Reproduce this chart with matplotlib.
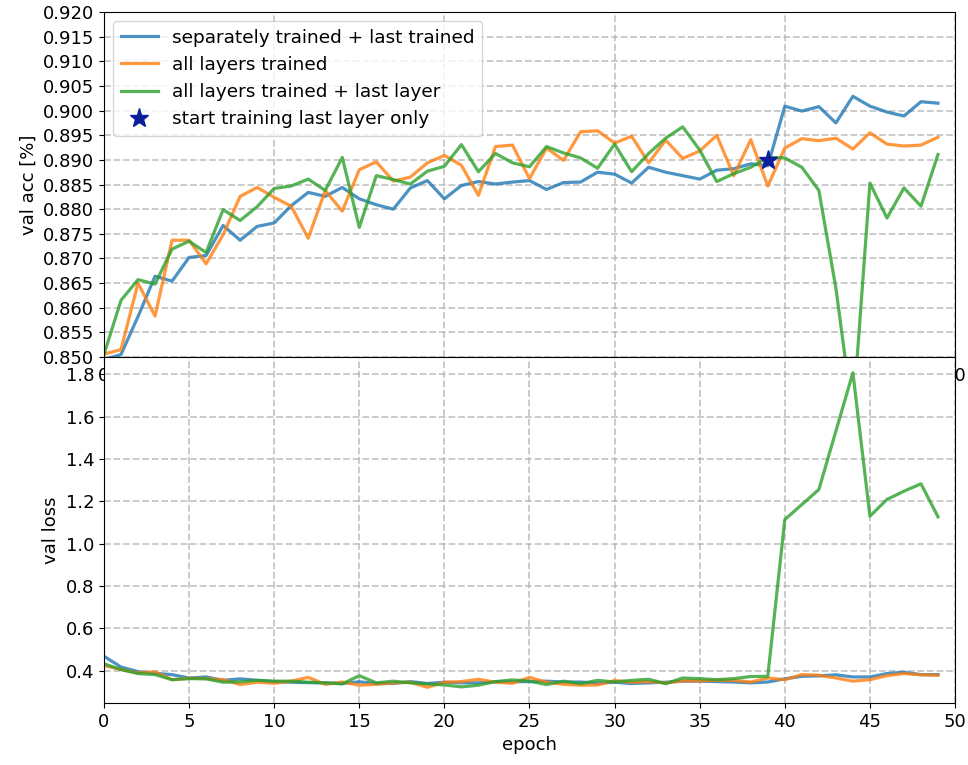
import numpy as np
import matplotlib
matplotlib.use("Agg")
import matplotlib.pyplot as plt

epochs = list(range(50))

acc_sep = [0.8495, 0.8505, 0.8582, 0.8664, 0.8654, 0.8702, 0.8706, 0.8767, 0.8737, 0.8765,
           0.8772, 0.8807, 0.8834, 0.8826, 0.8844, 0.8821, 0.8809, 0.8800, 0.8843, 0.8858,
           0.8821, 0.8848, 0.8856, 0.8851, 0.8855, 0.8858, 0.8840, 0.8854, 0.8855, 0.8875,
           0.8871, 0.8853, 0.8885, 0.8875, 0.8868, 0.8861, 0.8879, 0.8882, 0.8892, 0.8888,
           0.9009, 0.8999, 0.9008, 0.8975, 0.9029, 0.9009, 0.8997, 0.8989, 0.9018, 0.9015]
acc_all = [0.8506, 0.8515, 0.8650, 0.8583, 0.8737, 0.8737, 0.8689, 0.8748, 0.8826, 0.8844,
           0.8824, 0.8806, 0.8741, 0.8838, 0.8796, 0.8880, 0.8896, 0.8857, 0.8865, 0.8894,
           0.8909, 0.8889, 0.8828, 0.8927, 0.8930, 0.8862, 0.8924, 0.8899, 0.8957, 0.8959,
           0.8934, 0.8948, 0.8894, 0.8940, 0.8903, 0.8918, 0.8950, 0.8868, 0.8941, 0.8847,
           0.8924, 0.8943, 0.8939, 0.8944, 0.8922, 0.8955, 0.8932, 0.8928, 0.8930, 0.8946]
acc_last = [0.8505, 0.8615, 0.8657, 0.8648, 0.8719, 0.8735, 0.8712, 0.8799, 0.8777, 0.8805,
            0.8842, 0.8847, 0.8861, 0.8838, 0.8905, 0.8763, 0.8868, 0.8860, 0.8851, 0.8877,
            0.8887, 0.8931, 0.8876, 0.8913, 0.8894, 0.8886, 0.8927, 0.8914, 0.8904, 0.8883,
            0.8932, 0.8876, 0.8913, 0.8944, 0.8967, 0.8920, 0.8856, 0.8872, 0.8885, 0.8905,
            0.8904, 0.8885, 0.8838, 0.8640, 0.8380, 0.8853, 0.8782, 0.8843, 0.8806, 0.8911]

loss_sep = [0.468, 0.417, 0.395, 0.387, 0.381, 0.365, 0.370, 0.354, 0.361, 0.354,
            0.348, 0.345, 0.343, 0.342, 0.339, 0.347, 0.339, 0.339, 0.348, 0.339,
            0.345, 0.342, 0.342, 0.348, 0.347, 0.348, 0.350, 0.346, 0.346, 0.340,
            0.345, 0.339, 0.342, 0.345, 0.350, 0.350, 0.348, 0.346, 0.342, 0.346,
            0.361, 0.373, 0.375, 0.380, 0.370, 0.370, 0.386, 0.392, 0.381, 0.381]
loss_all = [0.424, 0.405, 0.389, 0.394, 0.357, 0.364, 0.362, 0.357, 0.334, 0.345,
            0.340, 0.350, 0.368, 0.335, 0.346, 0.331, 0.335, 0.342, 0.345, 0.321,
            0.345, 0.348, 0.359, 0.345, 0.340, 0.368, 0.345, 0.335, 0.331, 0.332,
            0.353, 0.345, 0.348, 0.342, 0.351, 0.351, 0.354, 0.354, 0.346, 0.365,
            0.357, 0.381, 0.378, 0.365, 0.350, 0.357, 0.376, 0.386, 0.380, 0.378]
loss_last = [0.432, 0.405, 0.386, 0.381, 0.357, 0.362, 0.361, 0.345, 0.347, 0.354,
             0.350, 0.350, 0.345, 0.342, 0.337, 0.376, 0.342, 0.350, 0.342, 0.337,
             0.332, 0.323, 0.331, 0.348, 0.356, 0.350, 0.334, 0.350, 0.338, 0.354,
             0.346, 0.354, 0.359, 0.338, 0.365, 0.362, 0.357, 0.362, 0.372, 0.373,
             1.114, 1.185, 1.256, 1.532, 1.808, 1.130, 1.209, 1.248, 1.283, 1.127]

start_epoch = 39
start_acc = 0.890

labels = ['separately trained + last trained', 'all layers trained',
          'all layers trained + last layer']
colors = ['tab:blue', 'tab:orange', 'tab:green']

plt.rcParams['font.size'] = 13
fig = plt.figure(figsize=(9.68, 7.65), dpi=100)

# top: validation accuracy
ax1 = fig.add_axes([0.1074, 0.5333, 0.8792, 0.4510])
for ys, lab, c in zip([acc_sep, acc_all, acc_last], labels, colors):
    ax1.plot(epochs, ys, color=c, alpha=0.8, lw=2.3, label=lab)
ax1.plot(start_epoch, start_acc, '*', color='#0b1f9b', markersize=14,
         label='start training last layer only')
ax1.set_xlim(0, 50)
ax1.set_ylim(0.85, 0.92)
ax1.set_yticks(np.arange(0.85, 0.9201, 0.005))
ax1.yaxis.set_major_formatter(matplotlib.ticker.FormatStrFormatter('%.3f'))
ax1.set_ylabel('val acc [%]')
ax1.grid(True, linestyle='--', color='#b0b0b0', alpha=0.7, lw=1.3)
ax1.legend(loc='upper left', fontsize=13.3)

# bottom: validation loss
ax2 = fig.add_axes([0.1074, 0.0810, 0.8792, 0.4523])
for ys, lab, c in zip([loss_sep, loss_all, loss_last], labels, colors):
    ax2.plot(epochs, ys, color=c, alpha=0.8, lw=2.3, label=lab)
ax2.set_xlim(0, 50)
ax2.set_xticks(range(0, 51, 5))
ax2.set_ylabel('val loss')
ax2.set_xlabel('epoch')
ax2.grid(True, linestyle='--', color='#b0b0b0', alpha=0.7, lw=1.3)

fig.savefig('out.png', dpi=100)
